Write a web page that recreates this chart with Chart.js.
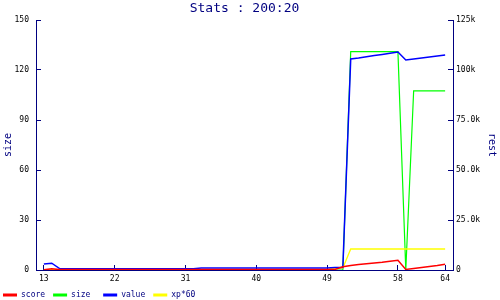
<!DOCTYPE html>
<html><head><meta charset="utf-8">
<script src="https://cdn.jsdelivr.net/npm/chart.js@4/dist/chart.umd.min.js"></script>
<style>html,body{margin:0;padding:0;background:#fff}canvas{display:block}</style>
</head><body>
<canvas id="c" width="500" height="300"></canvas>
<script>
// ---- data ----
const categories = [13,14,15,16,17,18,19,20,21,22,23,24,25,26,27,28,29,30,31,32,33,34,35,36,37,38,39,40,41,42,43,44,45,46,47,48,49,50,51,52,53,54,55,56,57,58,59,60,61,62,63,64];
const score = [100,600,200,300,300,300,300,300,300,300,300,300,300,300,300,300,300,300,300,300,300,300,300,300,300,300,300,300,300,300,300,300,300,300,300,300,300,300,1600,2300,2700,3100,3500,3900,4400,4900,300,800,1300,1800,2300,2900];
const size = [0,0,0,0,0,0,0,0,0,0,0,0,0,0,0,0,0,0,0,0,0,0,0,0,0,0,0,0,0,0,0,0,0,0,0,0,0,0,0,131,131,131,131,131,131,131,0,107.5,107.5,107.5,107.5,107.5];
const value = [3000,3400,700,600,600,600,600,600,600,600,600,600,600,600,600,600,600,600,600,600,1000,1000,1000,1000,1000,1000,1000,1000,1000,1000,1000,1000,1000,1000,1000,1000,1000,1300,1300,105500,106000,106600,107200,107800,108400,109000,105000,105500,106000,106500,107000,107500];
const xp60 = [200,200,200,200,200,200,200,200,200,200,200,200,200,200,200,200,200,200,200,200,200,200,200,200,200,200,200,200,200,200,200,200,200,200,200,200,200,1000,1000,10500,10500,10500,10500,10500,10500,10500,10500,10500,10500,10500,10500,10500];
const seriesNames = ['score','size','value','xp*60'];
const xTickValues = [13,22,31,40,49,58,64];
const xTickLabels = ['13','22','31','40','49','58','64'];
const yLeftLabels = ['0','30','60','90','120','150'];
const yRightLabels = ['0','25.0k','50.0k','75.0k','100k','125k'];
const titleText = 'Stats : 200:20';

const NAVY = '#000080';
const MONO = '"DejaVu Sans Mono", monospace';
const pts = arr => categories.map((c, i) => ({x: c, y: arr[i]}));

const gridOpts = {display: true, drawOnChartArea: false, drawTicks: true, tickLength: -5, tickWidth: 1, tickColor: NAVY, color: NAVY};

const ds = (label, data, color, axis, order, w) => ({
  label, data: pts(data), borderColor: color, backgroundColor: color, yAxisID: axis,
  order, borderWidth: w, pointRadius: 0, tension: 0, fill: false
});

new Chart(document.getElementById('c'), {
  type: 'line',
  data: {
    datasets: [
      ds(seriesNames[0], score, '#ff0000', 'y1', 0, 1.5),
      ds(seriesNames[1], size, '#00ff00', 'y', 3, 1.2),
      ds(seriesNames[2], value, '#0000ff', 'y1', 1, 1.5),
      ds(seriesNames[3], xp60, '#ffff00', 'y1', 2, 1.3)
    ]
  },
  options: {
    responsive: false,
    animation: false,
    devicePixelRatio: 1,
    layout: {padding: {left: -5, right: 0, top: 0, bottom: 0}},
    plugins: {
      tooltip: {enabled: false},
      title: {
        display: true, text: titleText, color: NAVY, fullSize: false,
        font: {family: MONO, size: 13, weight: 'normal'},
        padding: {top: 1, bottom: 3.4}
      },
      legend: {
        position: 'bottom', align: 'start', maxHeight: 17,
        labels: {
          color: NAVY, boxWidth: 14, boxHeight: 3, padding: 8,
          font: {family: MONO, size: 8},
          sort: (a, b) => a.datasetIndex - b.datasetIndex,
          generateLabels: chart => Chart.defaults.plugins.legend.labels.generateLabels(chart).map(l => {
            const t = l.text.length < 5 ? l.text + ' '.repeat(5 - l.text.length) : l.text;
            return Object.assign(l, {text: t, lineWidth: 0, fillStyle: l.strokeStyle});
          })
        }
      }
    },
    scales: {
      x: {
        type: 'linear', min: 12, max: 65,
        grid: gridOpts,
        border: {display: true, color: NAVY, width: 1},
        afterBuildTicks: s => { s.ticks = xTickValues.map(v => ({value: v})); },
        afterFit: s => { s.height = 13; },
        ticks: {autoSkip: false, maxRotation: 0, color: '#000', padding: 9,
          font: {family: MONO, size: 8},
          callback: (v, i) => xTickLabels[i]}
      },
      y: {
        position: 'left', min: 0, max: 150,
        grid: gridOpts,
        border: {display: true, color: NAVY, width: 1},
        afterFit: s => { s.width = 41; },
        title: {display: true, text: 'size', color: NAVY, font: {family: MONO, size: 10}, padding: {top: 7, bottom: 0}},
        ticks: {stepSize: 30, color: '#000', padding: 12, font: {family: MONO, size: 8},
          callback: (v, i) => yLeftLabels[i]}
      },
      y1: {
        position: 'right', min: 0, max: 125000,
        grid: gridOpts,
        border: {display: true, color: NAVY, width: 1},
        afterFit: s => { s.width = 47; },
        title: {display: true, text: 'rest', color: NAVY, font: {family: MONO, size: 10}, padding: {top: 2, bottom: 0}},
        ticks: {stepSize: 25000, color: '#000', padding: 8, font: {family: MONO, size: 8},
          callback: (v, i) => yRightLabels[i]}
      }
    }
  }
});
</script>
</body></html>
